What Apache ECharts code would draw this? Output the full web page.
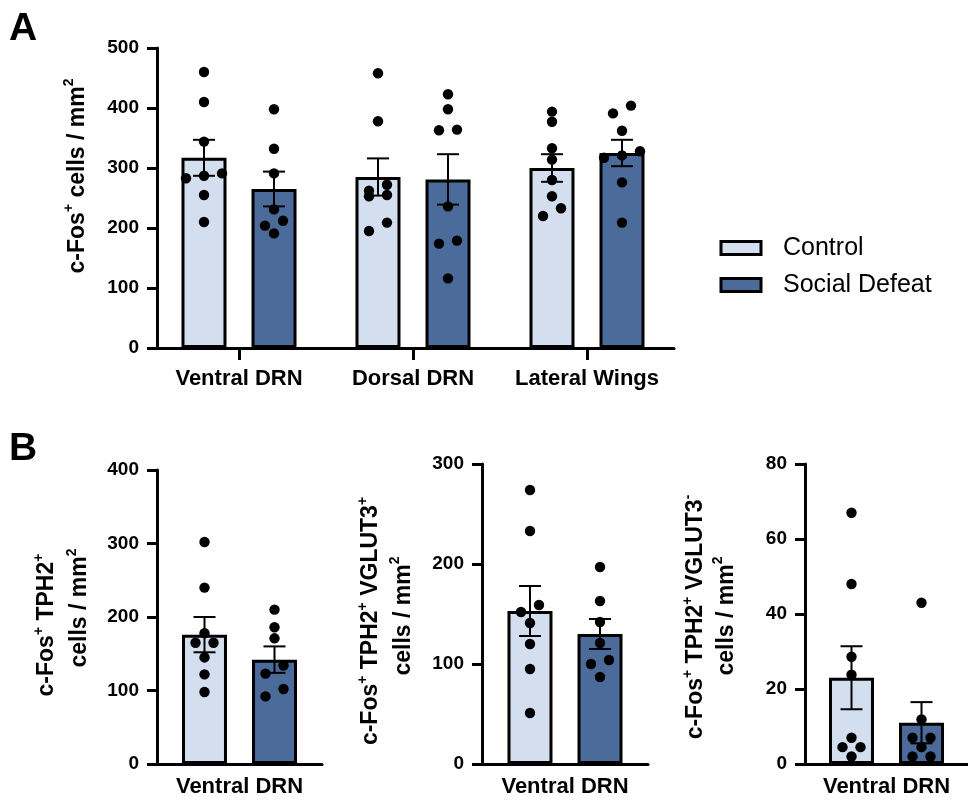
<!DOCTYPE html>
<html><head><meta charset="utf-8">
<script src="https://cdn.jsdelivr.net/npm/echarts@6/dist/echarts.min.js"></script>
<style>html,body{margin:0;padding:0;background:#fff}#c{width:968px;height:802px}</style>
</head><body><div id="c"></div>
<script>
// ---------------- DATA ----------------
const groupNames = ['Control', 'Social Defeat'];
const regionsA = ['Ventral DRN', 'Dorsal DRN', 'Lateral Wings'];
const regionsB = ['Ventral DRN'];

const yTicksA  = [0, 100, 200, 300, 400, 500];
const yTicksB1 = [0, 100, 200, 300, 400];
const yTicksB2 = [0, 100, 200, 300];
const yTicksB3 = [0, 20, 40, 60, 80];

// Panel A: c-Fos+ cells / mm2
const meanA_control = [317, 285, 300];
const semA_control  = [30, 31, 23];
const meanA_defeat  = [265, 281, 325];
const semA_defeat   = [29, 42, 22];
const dotsA_control = [
  [460, 410, 344, 291, 287, 283, 255, 210],
  [458, 378, 272, 262, 255, 253, 209, 195],
  [394, 377, 333, 314, 280, 253, 233, 220]
];
const dotsA_defeat = [
  [398, 332, 291, 231, 212, 204, 191],
  [423, 398, 364, 363, 236, 179, 174, 116],
  [404, 391, 362, 328, 321, 317, 276, 209]
];

// Panel B1: c-Fos+ TPH2+ cells / mm2
const meanB1_control = [176];
const semB1_control  = [24];
const meanB1_defeat  = [142];
const semB1_defeat   = [18];
const dotsB1_control = [[302, 240, 178, 165, 165, 145, 122, 98]];
const dotsB1_defeat  = [[210, 186, 171, 134, 123, 102, 92]];

// Panel B2: c-Fos+ TPH2+ VGLUT3+ cells / mm2
const meanB2_control = [153];
const semB2_control  = [25];
const meanB2_defeat  = [130];
const semB2_defeat   = [15];
const dotsB2_control = [[274, 233, 159, 152, 141, 120, 95, 51]];
const dotsB2_defeat  = [[197, 163, 142, 121, 104, 100, 87]];

// Panel B3: c-Fos+ TPH2+ VGLUT3- cells / mm2
const meanB3_control = [23];
const semB3_control  = [8.4];
const meanB3_defeat  = [11];
const semB3_defeat   = [5.5];
const dotsB3_control = [[67, 48, 28.6, 23.8, 7.0, 4.5, 4.5, 2.0]];
const dotsB3_defeat  = [[43, 11.9, 7.0, 7.0, 4.5, 2.0, 2.0]];

// ---------------- STYLE / LAYOUT ----------------
const FONT = 'Liberation Sans, Arial, Helvetica, sans-serif';
const FILL = ['#d3deef', '#4b6b9b'];
const BAR_OFFSET = 35;   // px from category centre to each bar centre
const BAR_W = 45;
const DOT_R = 5.2;
const DOT_STEP = 18;
const ROW_TOL = 8.7;
const CAP = 11;

const panels = [
  {cats: regionsA, ticks: yTicksA, mean: [meanA_control, meanA_defeat], sem: [semA_control, semA_defeat], dots: [dotsA_control, dotsA_defeat],
   grid: {left: 152, top: 48, width: 522, height: 300}, yOffset: -5, xTick: true, labelMargin: 20},
  {cats: regionsB, ticks: yTicksB1, mean: [meanB1_control, meanB1_defeat], sem: [semB1_control, semB1_defeat], dots: [dotsB1_control, dotsB1_defeat],
   grid: {left: 157, top: 470, width: 165, height: 294}, yOffset: 0, xTick: false, labelMargin: 12},
  {cats: regionsB, ticks: yTicksB2, mean: [meanB2_control, meanB2_defeat], sem: [semB2_control, semB2_defeat], dots: [dotsB2_control, dotsB2_defeat],
   grid: {left: 482, top: 464, width: 166, height: 300}, yOffset: 0, xTick: false, labelMargin: 12},
  {cats: regionsB, ticks: yTicksB3, mean: [meanB3_control, meanB3_defeat], sem: [semB3_control, semB3_defeat], dots: [dotsB3_control, dotsB3_defeat],
   grid: {left: 805, top: 464, width: 165, height: 300}, yOffset: 0, xTick: false, labelMargin: 12}
];

// beeswarm-like row layout: points close in pixel y share a row, spread symmetrically
function swarm(values, toPx) {
  const idx = values.map((v, i) => i).sort((a, b) => values[b] - values[a]);
  const off = new Array(values.length).fill(0);
  let row = [], rowStart = null;
  const flush = () => {
    row.sort((a, b) => values[a] - values[b] || a - b);
    const n = row.length;
    row.forEach((i, j) => { off[i] = (j - (n - 1) / 2) * DOT_STEP; });
  };
  idx.forEach(i => {
    const py = toPx(values[i]);
    if (rowStart === null || Math.abs(py - rowStart) > ROW_TOL) {
      if (row.length) flush();
      row = []; rowStart = py;
    }
    row.push(i);
  });
  if (row.length) flush();
  return off;
}

const grids = [], xAxes = [], yAxes = [], series = [];
panels.forEach((p, pi) => {
  grids.push(Object.assign({containLabel: false}, p.grid));
  xAxes.push({
    type: 'category', gridIndex: pi, data: p.cats,
    axisLine: {show: true, lineStyle: {color: '#000', width: 3}},
    axisTick: {show: p.xTick, alignWithLabel: true, length: 12, lineStyle: {color: '#000', width: 3}},
    axisLabel: {interval: 0, color: '#000', fontFamily: FONT, fontWeight: 'bold', fontSize: 22, margin: p.labelMargin},
    splitLine: {show: false}
  });
  yAxes.push({
    type: 'value', gridIndex: pi, offset: p.yOffset,
    min: p.ticks[0], max: p.ticks[p.ticks.length - 1], interval: p.ticks[1] - p.ticks[0],
    axisLine: {show: true, lineStyle: {color: '#000', width: 3}},
    axisTick: {show: true, length: 10, lineStyle: {color: '#000', width: 3}},
    axisLabel: {color: '#000', fontFamily: FONT, fontWeight: 'bold', fontSize: 19, margin: 18},
    splitLine: {show: false}
  });
  [0, 1].forEach(g => {
    const side = g === 0 ? -1 : 1;
    series.push({
      type: 'bar', name: groupNames[g], xAxisIndex: pi, yAxisIndex: pi,
      data: p.mean[g], barWidth: BAR_W, barGap: ((2 * BAR_OFFSET - BAR_W) / BAR_W * 100).toFixed(1) + '%',
      itemStyle: {color: FILL[g], borderColor: '#000', borderWidth: 3},
      z: 2
    });
    const errData = p.mean[g].map((m, ci) => [ci, m, p.sem[g][ci]]);
    series.push({
      type: 'custom', name: groupNames[g] + ' SEM', xAxisIndex: pi, yAxisIndex: pi, z: 3,
      data: errData, encode: {x: 0, y: 1},
      renderItem: (params, api) => {
        const ci = api.value(0), m = api.value(1), s = api.value(2);
        const t = api.coord([ci, m + s]), b = api.coord([ci, m - s]);
        const x = t[0] + side * BAR_OFFSET;
        const st = {stroke: '#000', lineWidth: 2};
        return {type: 'group', children: [
          {type: 'line', shape: {x1: x, y1: t[1], x2: x, y2: b[1]}, style: st},
          {type: 'line', shape: {x1: x - CAP, y1: t[1], x2: x + CAP, y2: t[1]}, style: st},
          {type: 'line', shape: {x1: x - CAP, y1: b[1], x2: x + CAP, y2: b[1]}, style: st}
        ]};
      }
    });
    const dotsByCat = p.dots[g];
    const dotData = [];
    dotsByCat.forEach((arr, ci) => arr.forEach((v, k) => dotData.push([ci, v, k])));
    series.push({
      type: 'custom', name: groupNames[g] + ' points', xAxisIndex: pi, yAxisIndex: pi, z: 4,
      data: dotData, encode: {x: 0, y: 1},
      renderItem: (params, api) => {
        const ci = api.value(0), v = api.value(1), k = api.value(2);
        const offs = swarm(dotsByCat[ci], val => api.coord([ci, val])[1]);
        const c = api.coord([ci, v]);
        return {type: 'circle', shape: {cx: c[0] + side * BAR_OFFSET + offs[k], cy: c[1], r: DOT_R}, style: {fill: '#000'}};
      }
    });
  });
});

const bold = {fontFamily: FONT, fontWeight: 'bold', fontSize: 23, lineHeight: 30, fill: '#000'};
const sup = {fontFamily: FONT, fontWeight: 'bold', fontSize: 14, verticalAlign: 'top', fill: '#000'};
function title(x, y, text) {
  return {type: 'text', x: x, y: y, rotation: Math.PI / 2, silent: true,
    style: {text: text, rich: {b: bold, s: sup}, align: 'center', verticalAlign: 'middle'}};
}
function letter(x, y, t) {
  return {type: 'text', x: x, y: y, silent: true,
    style: {text: t, fontFamily: FONT, fontWeight: 'bold', fontSize: 39, fill: '#000', verticalAlign: 'middle'}};
}

const option = {
  animation: false,
  backgroundColor: '#fff',
  grid: grids, xAxis: xAxes, yAxis: yAxes, series: series,
  legend: {
    data: groupNames, orient: 'vertical', left: 719.5, top: 235, padding: 0, itemGap: 11,
    itemWidth: 40, itemHeight: 13, icon: 'rect', selectedMode: false,
    itemStyle: {borderColor: '#000', borderWidth: 3},
    textStyle: {fontFamily: FONT, fontSize: 25, color: '#000', lineHeight: 26, padding: [0, 0, 0, 17]}
  },
  graphic: [
    letter(9, 29, 'A'),
    letter(9, 449, 'B'),
    title(77.5, 176, '{b|c-Fos}{s|+}{b| cells / mm}{s|2}'),
    title(47, 625, '{b|c-Fos}{s|+}{b| TPH2}{s|+}'),
    title(80, 608, '{b|cells / mm}{s|2}'),
    title(371, 621, '{b|c-Fos}{s|+}{b| TPH2}{s|+}{b| VGLUT3}{s|+}'),
    title(403.5, 616, '{b|cells / mm}{s|2}'),
    title(696, 617, '{b|c-Fos}{s|+}{b| TPH2}{s|+}{b| VGLUT3}{s|-}'),
    title(726.5, 616, '{b|cells / mm}{s|2}')
  ]
};

const chart = echarts.init(document.getElementById('c'), null, {renderer: 'canvas'});
chart.setOption(option);
</script>
</body></html>
